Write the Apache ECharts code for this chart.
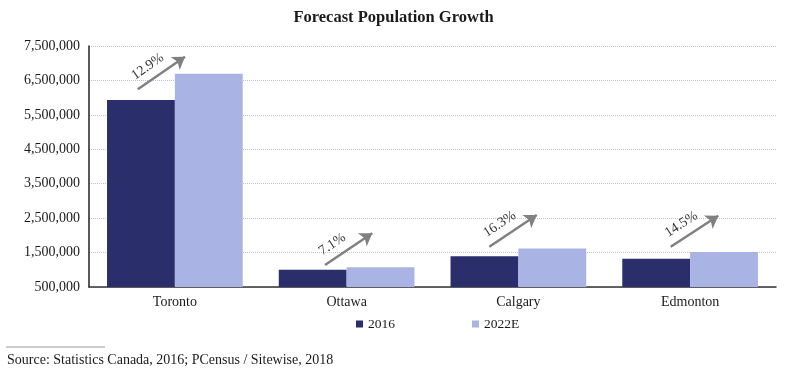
<!DOCTYPE html>
<html>
<head>
<meta charset="utf-8">
<script src="https://cdn.jsdelivr.net/npm/echarts@6/dist/echarts.min.js"></script>
<style>html,body{margin:0;padding:0;background:#fff;}#c{width:787px;height:372px;}</style>
</head>
<body>
<div id="c"></div>
<script>
var categories = ['Toronto', 'Ottawa', 'Calgary', 'Edmonton'];
var values2016 = [5928000, 1000000, 1392000, 1321000];
var values2022E = [6693000, 1071000, 1619000, 1513000];
var growthLabels = ['12.9%', '7.1%', '16.3%', '14.5%'];
// arrow annotation anchors (x in category units, y in axis value)
var arrowStartX = [0.284, 1.374, 2.331, 3.387];
var arrowEndX = [0.559, 1.649, 2.607, 3.664];
var arrowStartY = [6242000, 1139000, 1670000, 1670000];
var arrowEndY = [7189000, 2060000, 2590000, 2570000];
var yTicks = [500000, 1500000, 2500000, 3500000, 4500000, 5500000, 6500000, 7500000];

var FONT = '"Liberation Serif", "DejaVu Serif", serif';
var chart = echarts.init(document.getElementById('c'), null, {renderer: 'canvas'});

var arrowData = categories.map(function (c, i) {
  return [
    {name: growthLabels[i], coord: [arrowStartX[i], arrowStartY[i]]},
    {coord: [arrowEndX[i], arrowEndY[i]]}
  ];
});

chart.setOption({
  animation: false,
  title: {
    text: 'Forecast Population Growth',
    left: 'center', top: 4,
    textStyle: {fontFamily: FONT, fontWeight: 'bold', fontSize: 16.5, color: '#1a1a1a'}
  },
  legend: {
    data: ['2016', '2022E'],
    left: 351, top: 312,
    itemWidth: 7, itemHeight: 7, itemGap: 77,
    icon: 'rect',
    textStyle: {fontFamily: FONT, fontSize: 13.5, color: '#1a1a1a'}
  },
  grid: {left: 89, right: 11, top: 46, bottom: 85, containLabel: false},
  xAxis: [{
    type: 'category',
    data: categories,
    axisLine: {lineStyle: {color: '#333', width: 1.5}},
    axisTick: {show: false},
    axisLabel: {fontFamily: FONT, fontSize: 14, color: '#1a1a1a', margin: 8}
  }, {
    type: 'value', min: 0, max: 4, show: false
  }],
  yAxis: {
    type: 'value',
    min: yTicks[0], max: yTicks[yTicks.length - 1], interval: 1000000,
    axisLine: {show: true, lineStyle: {color: '#222', width: 1.5}},
    axisTick: {show: false},
    axisLabel: {
      fontFamily: FONT, fontSize: 14, color: '#1a1a1a', margin: 9,
      formatter: function (v) { return v.toLocaleString('en-US'); }
    },
    splitLine: {lineStyle: {color: '#c4bfd4', type: 'dotted', width: 1}}
  },
  series: [{
    name: '2016', type: 'bar', data: values2016,
    barGap: '0%', barCategoryGap: '21%',
    itemStyle: {color: '#2a2e6a'}
  }, {
    name: '2022E', type: 'bar', data: values2022E,
    barGap: '0%', barCategoryGap: '21%',
    itemStyle: {color: '#aab4e4'}
  }, {
    name: 'arrows', type: 'scatter', xAxisIndex: 1,
    data: [[0, 500000]], symbolSize: 0, silent: true,
    markLine: {
      silent: true,
      symbol: ['none', 'arrow'],
      symbolSize: 12,
      lineStyle: {color: '#808080', width: 2.5, type: 'solid'},
      label: {
        show: true, position: 'insideStartTop', formatter: '{b}',
        fontFamily: FONT, fontSize: 14, color: '#333', distance: [3, 6]
      },
      emphasis: {disabled: true},
      data: arrowData
    }
  }],
  graphic: [{
    type: 'line', shape: {x1: 6, y1: 347, x2: 105, y2: 347},
    style: {stroke: '#999', lineWidth: 1}
  }, {
    type: 'text', left: 7, top: 353,
    style: {text: 'Source: Statistics Canada, 2016; PCensus / Sitewise, 2018', font: '14px ' + FONT, fill: '#1a1a1a'}
  }]
});
</script>
</body>
</html>
